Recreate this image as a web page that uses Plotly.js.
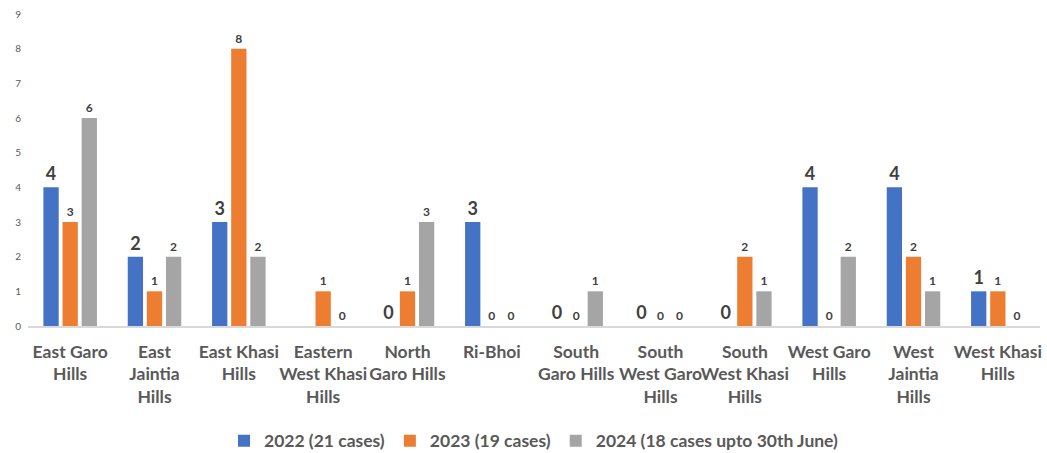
<!DOCTYPE html>
<html>
<head>
<meta charset="utf-8">
<script src="https://cdn.plot.ly/plotly-3.0.1.min.js"></script>
<style>html,body{margin:0;padding:0;background:#fff}#chart{width:1047px;height:453px}</style>
</head>
<body>
<div id="chart"></div>
<script>
const categories = ["East Garo<br>Hills", "East<br>Jaintia<br>Hills", "East Khasi<br>Hills", "Eastern<br>West Khasi<br>Hills", "North<br>Garo Hills", "Ri-Bhoi", "South<br>Garo Hills", "South<br>West Garo<br>Hills", "South<br>West Khasi<br>Hills", "West Garo<br>Hills", "West<br>Jaintia<br>Hills", "West Khasi<br>Hills"];
const seriesNames = ["2022 (21 cases)", "2023 (19 cases)", "2024 (18 cases upto 30th June)"];
const values2022 = [4, 2, 3, null, 0, 3, 0, 0, 0, 4, 4, 1];
const values2023 = [3, 1, 8, 1, 1, 0, 0, 0, 2, 0, 2, 1];
const values2024 = [6, 2, 2, 0, 3, 0, 1, 0, 1, 2, 1, 0];
const yTicks = [0, 1, 2, 3, 4, 5, 6, 7, 8, 9];

const colors = ["#4472C4", "#ED7D31", "#A5A5A5"];
const labelSizes = [18, 12, 12];
const font = "Lato, 'Open Sans', sans-serif";
const allValues = [values2022, values2023, values2024];

const traces = allValues.map((vals, i) => ({
  type: "bar",
  name: seriesNames[i],
  x: categories,
  y: vals,
  marker: {color: colors[i]},
  text: vals.map(v => v === null ? "" : String(v)),
  textposition: "outside",
  textfont: {family: font, size: labelSizes[i], color: "#404040", weight: 700},
  cliponaxis: false,
  hoverinfo: "skip"
}));

const layout = {
  width: 1047, height: 453,
  margin: {l: 28, r: 7, t: 14, b: 127},
  paper_bgcolor: "#fff", plot_bgcolor: "#fff",
  barmode: "group",
  bargap: 0.32,
  bargroupgap: 0.2,
  font: {family: font, color: "#595959"},
  xaxis: {
    automargin: false,
    showgrid: false, zeroline: false,
    showline: true, linecolor: "#D9D9D9", linewidth: 1.5,
    tickfont: {family: font, size: 17.5, color: "#595959", weight: 700},
    ticks: "", tickangle: 0, ticklabelstandoff: 9
  },
  yaxis: {
    automargin: false,
    range: [0, 9], tickvals: yTicks,
    showgrid: false, zeroline: false, showline: false,
    tickfont: {family: font, size: 10, color: "#595959"},
    ticks: "", ticklabelstandoff: 6
  },
  showlegend: true,
  legend: {
    orientation: "h", x: 0.5, xanchor: "center",
    yref: "container", y: 0.027, yanchor: "middle",
    font: {family: font, size: 17.5, color: "#595959", weight: 700},
    itemwidth: 30, traceorder: "normal"
  }
};

Plotly.newPlot("chart", traces, layout, {staticPlot: true, displayModeBar: false});
</script>
</body>
</html>
